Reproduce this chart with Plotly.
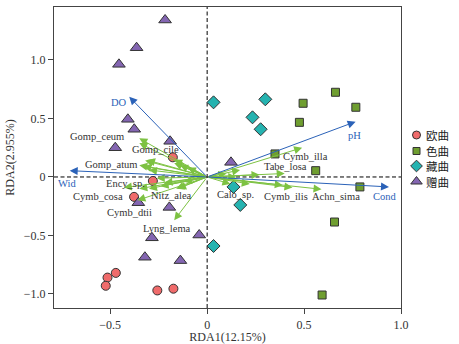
import plotly.graph_objects as go

# ---------------- data ----------------
group_names = ["欧曲", "色曲", "藏曲", "赠曲"]

ouqu_x = [-0.28, -0.377, -0.177, -0.514, -0.471, -0.523, -0.257, -0.174]
ouqu_y = [-0.034, -0.17, 0.168, -0.86, -0.82, -0.93, -0.97, -0.955]

sequ_x = [0.662, 0.495, 0.767, 0.476, 0.35, 0.56, 0.788, 0.657, 0.593]
sequ_y = [0.724, 0.63, 0.596, 0.467, 0.197, 0.054, -0.085, -0.385, -1.009]

zangqu_x = [0.033, 0.30, 0.234, 0.276, 0.136, 0.171, 0.033]
zangqu_y = [0.638, 0.664, 0.51, 0.408, -0.085, -0.239, -0.59]

zengqu_x = [-0.217, -0.364, -0.455, -0.409, -0.376, -0.474, -0.191, 0.123,
            -0.355, -0.195, -0.285, -0.041, -0.321, -0.138]
zengqu_y = [1.342, 1.105, 0.963, 0.493, 0.408, 0.25, 0.305, 0.125,
            -0.22, -0.26, -0.52, -0.496, -0.686, -0.715]

env_names = ["DO", "pH", "Wid", "Cond"]
env_x = [-0.402, 0.766, -0.709, 0.938]
env_y = [0.686, 0.473, 0.054, -0.085]

species_names = ["Gomp_ceum", "Gomp_cile", "Gomp_atum", "Ency_sp.", "Cymb_cosa",
                 "Nitz_alea", "Cymb_dtii", "Lyng_lema", "Calo_sp.", "Cymb_ilis",
                 "Achn_sima", "Cymb_illa", "Tabe_losa"]
species_x = [-0.35, -0.17, -0.35, -0.30, -0.43, -0.16, -0.36, -0.17, 0.12, 0.44,
             0.59, 0.49, 0.40]
species_y = [0.33, 0.15, 0.10, -0.10, -0.09, -0.10, -0.20, -0.37, -0.06, -0.09,
             -0.105, 0.25, 0.03]

other_species_x = [-0.31, -0.33, -0.17, -0.14, -0.10, -0.26, -0.15, -0.30, -0.35,
                   -0.22, 0.17, 0.27, 0.15, 0.22, 0.10, -0.35, -0.32, -0.24, -0.12,
                   0.39]
other_species_y = [0.145, 0.09, 0.12, 0.10, 0.08, -0.01, -0.10, 0.06, -0.10,
                   -0.05, 0.06, 0.02, 0.0, -0.06, 0.03, 0.29, 0.14, -0.08, -0.04,
                   -0.07]

x_ticks = [-0.5, 0, 0.5, 1.0]
x_ticktext = ["\u22120.5", "0", "0.5", "1.0"]
y_ticks = [1.0, 0.5, 0, -0.5, -1.0]
y_ticktext = ["1.0", "0.5", "0", "\u22120.5", "\u22121.0"]

# ---------------- styles ----------------
serif = "Liberation Serif"
cjk = "Noto Sans CJK SC"
green = "#7DC242"
blue = "#2B62B8"
label_shift = {
    "Gomp_ceum": (-42, 2), "Gomp_cile": (-19, 10), "Gomp_atum": (-28, 1),
    "Ency_sp.": (-23, 5), "Cymb_cosa": (-26, -9), "Nitz_alea": (-5, -7),
    "Cymb_dtii": (-8, -12), "Lyng_lema": (-7, -8), "Calo_sp.": (5, -10),
    "Cymb_ilis": (-6, -9), "Achn_sima": (14, -7), "Cymb_illa": (3, -9),
    "Tabe_losa": (1, 7),
}
env_shift = {"DO": (-10, -6), "pH": (-1, -14), "Wid": (-3, -13), "Cond": (-4, -10)}

W, H = 459, 344
ML, MT, MB = 54, 7, 36
plot_right = 401  # px
x_dom_end = (plot_right - ML) / (W - ML)

fig = go.Figure()

annotations = []
for xs, ys in [(other_species_x, other_species_y), (species_x, species_y)]:
    for x, y in zip(xs, ys):
        annotations.append(dict(x=x, y=y, ax=0, ay=0, xref="x", yref="y",
                                axref="x", ayref="y", text="", showarrow=True,
                                arrowhead=2, arrowsize=1.6, arrowwidth=1.0,
                                arrowcolor=green))
for x, y in zip(env_x, env_y):
    annotations.append(dict(x=x, y=y, ax=0, ay=0, xref="x", yref="y",
                            axref="x", ayref="y", text="", showarrow=True,
                            arrowhead=2, arrowsize=1.6, arrowwidth=1.0,
                            arrowcolor=blue))
for n, x, y in zip(species_names, species_x, species_y):
    dx, dy = label_shift[n]
    annotations.append(dict(x=x, y=y, xref="x", yref="y", text=n, showarrow=False,
                            xshift=dx, yshift=dy,
                            font=dict(family=serif, size=10.5, color="#333")))
for n, x, y in zip(env_names, env_x, env_y):
    dx, dy = env_shift[n]
    annotations.append(dict(x=x, y=y, xref="x", yref="y", text=n, showarrow=False,
                            xshift=dx, yshift=dy,
                            font=dict(family=serif, size=10.5, color=blue)))

line = dict(color="#333", width=1)
styles = [
    dict(symbol="circle", size=9, color="#F06B6B", line=line),
    dict(symbol="square", size=8, color="#6F9E30", line=line),
    dict(symbol="diamond", size=10, color="#25B3B0", line=line),
    dict(symbol="triangle-up", size=11, color="#8466B2", line=line),
]
groups = [(ouqu_x, ouqu_y), (sequ_x, sequ_y), (zangqu_x, zangqu_y), (zengqu_x, zengqu_y)]
for name, (gx, gy), st in zip(group_names, groups, styles):
    fig.add_trace(go.Scatter(x=gx, y=gy, mode="markers", name=name,
                             marker=st, showlegend=False))

# manual legend on a hidden pixel-unit axis at the right
leg_y = [135, 151, 166, 181.5]
leg_marker_sizes = [8, 7, 9, 10]
for name, st, ly, ms in zip(group_names, styles, leg_y, leg_marker_sizes):
    fig.add_trace(go.Scatter(x=[416.5], y=[ly], xaxis="x2", yaxis="y2", mode="markers",
                             marker=dict(st, size=ms), showlegend=False,
                             hoverinfo="skip"))
    annotations.append(dict(x=424, y=ly, xref="x2", yref="y2", text=name,
                            showarrow=False, xanchor="left", yanchor="middle",
                            font=dict(family=cjk, size=11.5, color="#222")))

shapes = [
    dict(type="line", xref="x", yref="y domain", x0=0, x1=0, y0=0, y1=1,
         line=dict(color="black", width=1, dash="4px,2.5px"), layer="below"),
    dict(type="line", xref="x domain", yref="y", x0=0, x1=1, y0=0, y1=0,
         line=dict(color="black", width=1, dash="4px,2.5px"), layer="below"),
]

fig.update_layout(
    width=W, height=H,
    margin=dict(l=ML, r=0, t=MT, b=MB, autoexpand=False),
    plot_bgcolor="white", paper_bgcolor="white",
    showlegend=False,
    annotations=annotations,
    shapes=shapes,
    xaxis=dict(domain=[0, x_dom_end], range=[-0.79, 1.0], tickvals=x_ticks,
               ticktext=x_ticktext,
               showgrid=False, zeroline=False, showline=True, mirror=True,
               linecolor="#444", linewidth=1.2, ticks="outside", ticklen=5,
               tickcolor="#444",
               tickfont=dict(family=serif, size=12, color="#333"),
               title=dict(text="RDA1(12.15%)", font=dict(family=serif, size=12, color="#333"),
                          standoff=4)),
    yaxis=dict(range=[-1.12, 1.453], tickvals=y_ticks, ticktext=y_ticktext,
               showgrid=False, zeroline=False, showline=True, mirror=True,
               linecolor="#444", linewidth=1.2, ticks="outside", ticklen=5,
               tickcolor="#444",
               tickfont=dict(family=serif, size=12, color="#333"),
               title=dict(text="RDA2(2.955%)", font=dict(family=serif, size=12, color="#333"),
                          standoff=6)),
    xaxis2=dict(domain=[x_dom_end, 1], range=[plot_right, W], visible=False,
                anchor="y2", fixedrange=True),
    yaxis2=dict(domain=[0, 1], range=[H - MB, MT], visible=False,
                anchor="x2", fixedrange=True),
)

fig.write_html("out.html")
